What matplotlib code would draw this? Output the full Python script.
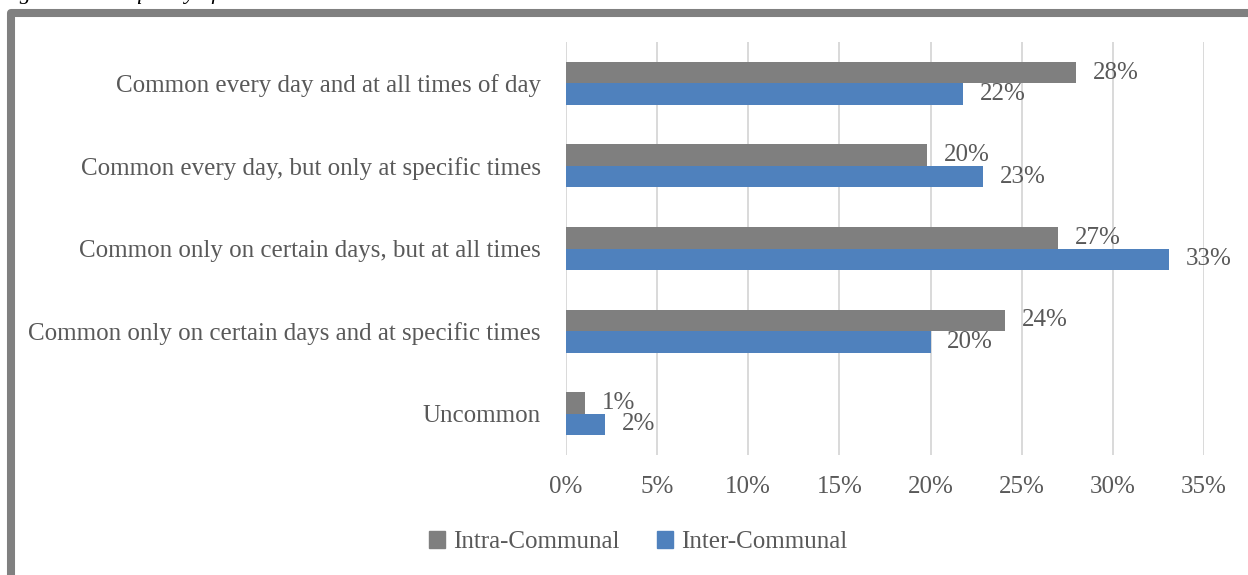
import matplotlib
import matplotlib.pyplot as plt
import numpy as np
from matplotlib.lines import Line2D
from matplotlib.patches import Patch
from matplotlib.ticker import FuncFormatter, MultipleLocator

matplotlib.use("Agg")

categories = [
    "Common every day and at all times of day",
    "Common every day, but only at specific times",
    "Common only on certain days, but at all times",
    "Common only on certain days and at specific times",
    "Uncommon",
]
intra_communal = [0.280, 0.198, 0.270, 0.241, 0.0105]
inter_communal = [0.218, 0.229, 0.331, 0.200, 0.0215]
series_names = ["Intra-Communal", "Inter-Communal"]
caption = "Figure 12: Frequency of Interaction"

GRAY = "#7f7f7f"
BLUE = "#4f81bd"
TEXT = "#595959"
SERIF = ["Liberation Serif", "DejaVu Serif"]
FS = 18

plt.rcParams["font.family"] = SERIF

fig = plt.figure(figsize=(12.48, 5.75), dpi=100)
W, H = 1248, 575
ax = fig.add_axes([566 / W, 1 - 455 / H, (1204 - 566) / W, (455 - 42) / H])

y = np.arange(len(categories))
bar_h = 0.26
ax.barh(y - bar_h / 2, intra_communal, height=bar_h, color=GRAY, zorder=3)
ax.barh(y + bar_h / 2, inter_communal, height=bar_h, color=BLUE, zorder=3)

for offset, values in ((-bar_h / 2, intra_communal), (bar_h / 2, inter_communal)):
    for yi, v in zip(y, values):
        ax.annotate(f"{v:.0%}", (v, yi + offset), xytext=(12, 0), textcoords="offset points",
                    ha="left", va="center", fontsize=FS, color=TEXT, zorder=4)

ax.set_xlim(0, 0.35)
ax.set_ylim(len(categories) - 0.5, -0.5)
ax.xaxis.set_major_locator(MultipleLocator(0.05))
ax.xaxis.set_major_formatter(FuncFormatter(lambda v, _: f"{v:.0%}"))
ax.set_yticks(y)
ax.set_yticklabels(categories)
ax.tick_params(axis="both", length=0, colors=TEXT, labelsize=FS)
ax.tick_params(axis="y", pad=18)
ax.tick_params(axis="x", pad=15)
ax.grid(axis="x", color="#d9d9d9", linewidth=1.4, zorder=0)
for spine in ax.spines.values():
    spine.set_visible(False)

handles = [Patch(color=GRAY), Patch(color=BLUE)]
fig.legend(handles, series_names, loc="center", bbox_to_anchor=(638 / W, 1 - 542 / H),
           ncol=2, frameon=False, fontsize=FS, labelcolor=TEXT, handlelength=0.65,
           handleheight=0.65, handletextpad=0.3, columnspacing=1.5)

# outer border of the chart box, running off the right and bottom edges
frame = Line2D([11 / W, 11 / W, 1.05], [-0.05, 1 - 12.5 / H, 1 - 12.5 / H],
               transform=fig.transFigure, color="#808080", linewidth=5.8,
               solid_joinstyle="round", solid_capstyle="butt")
fig.add_artist(frame)

# figure caption sits just above the page crop; only its descenders show
fig.text(0.0, 1 + 1.5 / H, caption, fontsize=16, style="italic", color="#000000",
         ha="left", va="baseline")

fig.savefig("out.png", dpi=100)
